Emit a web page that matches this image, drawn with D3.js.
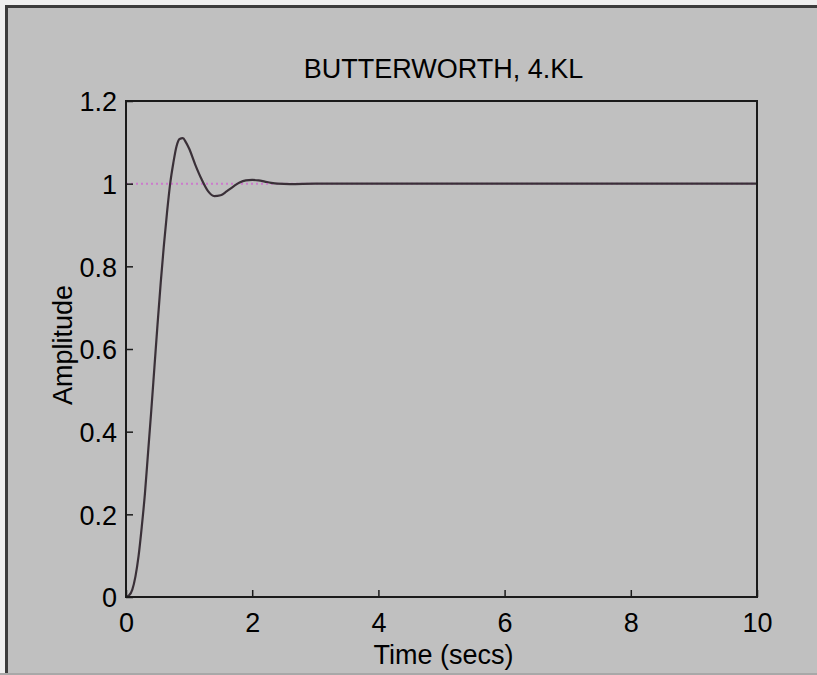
<!DOCTYPE html>
<html>
<head>
<meta charset="utf-8">
<script src="https://cdn.jsdelivr.net/npm/d3@7"></script>
<style>
  html, body { margin: 0; padding: 0; background: #ececec; }
  svg { display: block; }
  text { font-family: "Liberation Sans", Arial, Helvetica, sans-serif; fill: #000; }
</style>
</head>
<body>
<svg id="chart" width="817" height="675"></svg>
<script>
// Step response samples: time (s) and amplitude
const timeSecs = [0, 0.05, 0.1, 0.15, 0.2, 0.25, 0.3, 0.35, 0.4, 0.45, 0.5, 0.55, 0.6, 0.65,
  0.7, 0.75, 0.8, 0.85, 0.9, 0.95, 1.0, 1.1, 1.2, 1.3, 1.4, 1.5, 1.6, 1.7, 1.8, 1.9, 2.0,
  2.1, 2.2, 2.3, 2.4, 2.6, 3, 4, 5, 6, 7, 8, 9, 10];
const amplitude = [0, 0.004, 0.018, 0.05, 0.1, 0.17, 0.25, 0.35, 0.45, 0.555, 0.66, 0.76, 0.85, 0.93,
  1.0, 1.05, 1.09, 1.108, 1.11, 1.10, 1.085, 1.045, 1.01, 0.982, 0.970, 0.972, 0.982, 0.993, 1.003, 1.008, 1.009,
  1.008, 1.005, 1.002, 1.0, 0.999, 1.0, 1.0, 1.0, 1.0, 1.0, 1.0, 1.0, 1.0];
// Final (steady-state) value shown as a dotted reference line
const finalValue = [1];
const xTicks = [0, 2, 4, 6, 8, 10];
const yTicks = [0, 0.2, 0.4, 0.6, 0.8, 1, 1.2];
const titleText = "BUTTERWORTH, 4.KL";
const xLabelText = "Time (secs)";
const yLabelText = "Amplitude";

const svg = d3.select("#chart");
const W = 817, H = 675;

// window frame
svg.append("rect").attr("x", 0).attr("y", 0).attr("width", W).attr("height", H).attr("fill", "#efefef");
svg.append("rect").attr("x", 5).attr("y", 5).attr("width", W - 5).attr("height", H - 7).attr("fill", "#3c3c3c");
svg.append("rect").attr("x", 8).attr("y", 8).attr("width", W - 8).attr("height", H - 10).attr("fill", "#c0c0c0");
svg.append("rect").attr("x", 0).attr("y", H - 2).attr("width", W).attr("height", 2).attr("fill", "#a8a8a8");

const plot = { left: 126, right: 757, top: 101, bottom: 597 };

const x = d3.scaleLinear().domain([0, 10]).range([plot.left, plot.right]);
const y = d3.scaleLinear().domain([0, 1.2]).range([plot.bottom, plot.top]);

const fontSize = 27;

// reference line at final value
svg.append("line")
  .attr("x1", x(0)).attr("x2", x(10))
  .attr("y1", y(finalValue[0])).attr("y2", y(finalValue[0]))
  .attr("stroke", "#cc7acc").attr("stroke-width", 2)
  .attr("stroke-dasharray", "2,3");

// response curve
const pts = timeSecs.map((t, i) => [t, amplitude[i]]);
const line = d3.line().x(d => x(d[0])).y(d => y(d[1])).curve(d3.curveMonotoneX);
svg.append("path")
  .attr("d", line(pts))
  .attr("fill", "none")
  .attr("stroke", "#3a3038")
  .attr("stroke-width", 2.2)
  .attr("stroke-linejoin", "round");

// axes
const xAxis = d3.axisBottom(x).tickValues(xTicks).tickSizeInner(-7).tickSizeOuter(0).tickPadding(16)
  .tickFormat(d3.format("d"));
const yAxis = d3.axisLeft(y).tickValues(yTicks).tickSizeInner(-7).tickSizeOuter(0).tickPadding(9)
  .tickFormat(d => d === 0 || d === 1 ? String(d) : d3.format(".1f")(d));

const gx = svg.append("g").attr("transform", `translate(0,${plot.bottom})`).call(xAxis);
const gy = svg.append("g").attr("transform", `translate(${plot.left},0)`).call(yAxis);

[gx, gy].forEach(g => {
  g.select(".domain").remove();
  g.selectAll(".tick line").attr("stroke", "#1a1a1a").attr("stroke-width", 1.5);
  g.selectAll(".tick text")
    .attr("font-size", fontSize)
    .attr("font-family", "Liberation Sans, Arial, sans-serif")
    .attr("fill", "#111");
});
gy.selectAll(".tick text").attr("dy", "0.36em");

// box
svg.append("rect")
  .attr("x", plot.left).attr("y", plot.top)
  .attr("width", plot.right - plot.left).attr("height", plot.bottom - plot.top)
  .attr("fill", "none").attr("stroke", "#1a1a1a").attr("stroke-width", 2);

// title and labels
svg.append("text")
  .attr("x", (plot.left + plot.right) / 2 + 2).attr("y", 78)
  .attr("text-anchor", "middle").attr("font-size", fontSize)
  .attr("fill", "#111")
  .text(titleText);

svg.append("text")
  .attr("x", (plot.left + plot.right) / 2 + 2).attr("y", 664)
  .attr("text-anchor", "middle").attr("font-size", fontSize)
  .attr("fill", "#111")
  .text(xLabelText);

svg.append("text")
  .attr("transform", `translate(72,${(plot.top + plot.bottom) / 2 - 4}) rotate(-90)`)
  .attr("text-anchor", "middle").attr("font-size", fontSize)
  .attr("fill", "#111")
  .text(yLabelText);
</script>
</body>
</html>
